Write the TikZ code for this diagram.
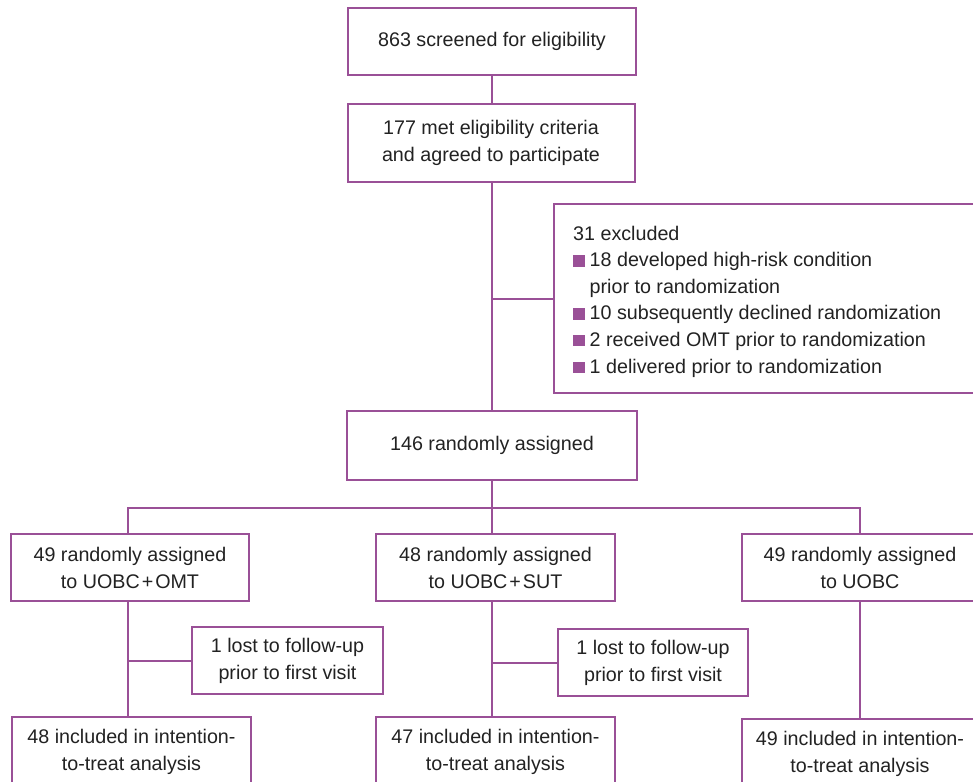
\documentclass[tikz,border=0pt]{standalone}
\usepackage{fontspec}
\setmainfont{Liberation Sans}
\definecolor{pur}{HTML}{9A5097}
\definecolor{txt}{HTML}{222222}
\newcommand\sqb{\textcolor{pur}{\rule{11.5pt}{11.5pt}}\hspace{5pt}}
\newcommand\plusx{\kern2pt+\kern2pt}
\begin{document}
\begin{tikzpicture}[x=1pt,y=-1pt,
  box/.style={draw=pur, line width=2pt, fill=white, text=txt, align=center, inner sep=0pt,
    font=\fontsize{19.7}{27}\selectfont},
  conn/.style={draw=pur, line width=2pt}]
\clip (0,0) rectangle (973,781);
% top chain
\node[box, minimum width=288pt, minimum height=67pt] (b1) at (492,41.5) {863 screened for eligibility};
\node[box, minimum width=287pt, minimum height=78pt] (b2) at (491,143) {177 met eligibility criteria\\and agreed to participate};
\node[box, minimum width=427pt, minimum height=189pt, anchor=north west] (ex) at (553,203) {};
\node[anchor=north west, inner sep=0pt, align=left, text=txt,
  font=\fontsize{19.7}{26.6}\selectfont] (exl) at (573,225.6) {31 excluded\\
\sqb 18 developed high-risk condition\\
\hspace*{16.5pt}prior to randomization\\
\sqb 10 subsequently declined randomization\\
\sqb 2 received OMT prior to randomization\\
\sqb 1 delivered prior to randomization};
\node[box, minimum width=290pt, minimum height=69pt] (b3) at (492,445.5) {146 randomly assigned};
% arms
\node[box, minimum width=238pt, minimum height=67pt] (l1) at (130,567.5) {49 randomly assigned\\to UOBC\plusx OMT};
\node[box, minimum width=239pt, minimum height=67pt] (m1) at (495.5,567.5) {48 randomly assigned\\to UOBC\plusx SUT};
\node[box, minimum width=236pt, minimum height=67pt] (r1) at (860,567.5) {49 randomly assigned\\to UOBC};
\node[box, minimum width=191pt, minimum height=67pt] (l2) at (287.5,660.5) {1 lost to follow-up\\prior to first visit};
\node[box, minimum width=190pt, minimum height=67pt] (m2) at (653,662.5) {1 lost to follow-up\\prior to first visit};
\node[box, minimum width=239pt, minimum height=70pt] (l3) at (131.5,752) {48 included in intention-\\to-treat analysis};
\node[box, minimum width=239pt, minimum height=70pt] (m3) at (495.5,752) {47 included in intention-\\to-treat analysis};
\node[box, minimum width=236pt, minimum height=70pt] (r3) at (860,754) {49 included in intention-\\to-treat analysis};
% connectors
\coordinate (ltop) at (128,507.7);
\coordinate (rtop) at (860,507.7);
\draw[conn] (b1.south) -- (b1.south |- b2.north);
\draw[conn] (b1.south |- b2.south) -- (b3.north);
\draw[conn] (b3.north |- ex.west) -- (ex.west);
\draw[conn] (b3.south) -- (b3.south |- m1.north);
\draw[conn] (ltop |- l1.north) -- (ltop) -- (rtop) -- (r1.north);
\draw[conn] (ltop |- l1.south) -- (ltop |- l3.north);
\draw[conn] (ltop |- l2.west) -- (l2.west);
\draw[conn] (b3.south |- m1.south) -- (b3.south |- m3.north);
\draw[conn] (b3.south |- m2.west) -- (m2.west);
\draw[conn] (r1.south) -- (r3.north);
\end{tikzpicture}
\end{document}
